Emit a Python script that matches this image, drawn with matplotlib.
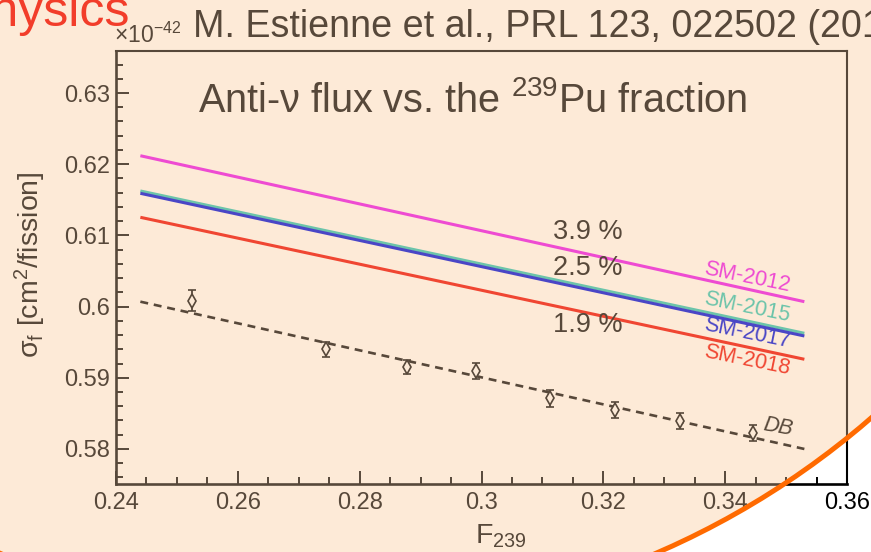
import matplotlib
matplotlib.use("Agg")
import matplotlib.pyplot as plt
from matplotlib.patches import Ellipse
from matplotlib.ticker import MultipleLocator

plt.rcParams['font.family'] = ['Liberation Sans', 'DejaVu Sans']
plt.rcParams['mathtext.fontset'] = 'custom'
plt.rcParams['mathtext.rm'] = 'Liberation Sans'
plt.rcParams['mathtext.it'] = 'Liberation Sans:italic'
plt.rcParams['mathtext.bf'] = 'Liberation Sans:bold'
plt.rcParams['mathtext.sf'] = 'Liberation Sans'

# ---- data -------------------------------------------------------------
f_range = [0.244, 0.353]                      # F239 span of the model lines
sm_names = ["SM-2012", "SM-2015", "SM-2017", "SM-2018"]
sm_values = {                                  # sigma_f at both ends of f_range
    "SM-2012": [0.62119, 0.60069],
    "SM-2015": [0.61624, 0.59625],
    "SM-2017": [0.61591, 0.59587],
    "SM-2018": [0.61254, 0.59260],
}
db_fit = [0.60069, 0.58000]                    # Daya Bay linear fit

db_f239 = [0.25243, 0.27442, 0.28772, 0.29909, 0.31124, 0.32191, 0.33258, 0.34461]
db_sigma = [0.60083, 0.59400, 0.59147, 0.59096, 0.58712, 0.58548, 0.58393, 0.58229]
db_err = [0.00152, 0.00105, 0.00100, 0.00112, 0.00117, 0.00117, 0.00117, 0.00112]

pct_labels = ["3.9 %", "2.5 %", "1.9 %"]
x_ticks = [0.24, 0.26, 0.28, 0.30, 0.32, 0.34, 0.36]
x_ticklabels = ["0.24", "0.26", "0.28", "0.3", "0.32", "0.34", "0.36"]
y_ticks = [0.58, 0.59, 0.60, 0.61, 0.62, 0.63]
y_ticklabels = ["0.58", "0.59", "0.6", "0.61", "0.62", "0.63"]

# ---- style ------------------------------------------------------------
W, H = 871, 552
PEACH = "#fdead7"
BROWN = "#57483a"
ORANGE = "#ff6a00"
sm_colors = {"SM-2012": "#ee4bd2", "SM-2015": "#6cc4aa",
             "SM-2017": "#4a46c6", "SM-2018": "#f04632"}

fig = plt.figure(figsize=(W / 100, H / 100), dpi=100, facecolor="white")
rect = [116 / W, 1 - 484 / H, (847 - 116) / W, (484 - 51) / H]
xlim = (0.24, 0.36)
ylim = (0.57508, 0.6359)

# highlight disc (pixel centre / radius converted to figure fractions)
cx, cy, r = 328, -207, 828
disc_kw = dict(xy=(cx / W, 1 - cy / H), width=2 * r / W, height=2 * r / H,
               transform=fig.transFigure)
disc = Ellipse(**disc_kw, facecolor=PEACH, edgecolor="none", zorder=0.5)
fig.add_artist(disc)
clip_disc = Ellipse(**disc_kw)
rim = Ellipse(**disc_kw, facecolor="none", edgecolor=ORANGE, lw=3.6, zorder=5)
fig.add_artist(rim)


def style_axes(ax, color):
    ax.set_xlim(*xlim)
    ax.set_ylim(*ylim)
    ax.set_facecolor("none")
    ax.xaxis.set_major_locator(plt.FixedLocator(x_ticks))
    ax.yaxis.set_major_locator(plt.FixedLocator(y_ticks))
    ax.xaxis.set_minor_locator(MultipleLocator(0.005))
    ax.yaxis.set_minor_locator(MultipleLocator(0.002))
    ax.tick_params(which="both", direction="in", colors=color, width=1.4,
                   top=False, right=False, labelsize=17)
    ax.tick_params(which="major", length=9.4)
    ax.tick_params(which="minor", length=5)
    ax.tick_params(axis="y", pad=4.5)
    ax.tick_params(axis="x", pad=5.5)
    for side in ["left", "bottom"]:
        ax.spines[side].set_linewidth(1.9)
    for side in ["top", "right"]:
        ax.spines[side].set_linewidth(1.5)
    for sp in ax.spines.values():
        sp.set_color(color)


# black frame seen outside the disc
ax_under = fig.add_axes(rect, zorder=0)
style_axes(ax_under, "black")
ax_under.set_xticklabels([])
ax_under.set_yticklabels([])

# main plot, tinted, restricted to the disc
ax = fig.add_axes(rect, zorder=1)
style_axes(ax, BROWN)
ax.set_xticklabels(x_ticklabels)
ax.set_yticklabels(y_ticklabels)
for t in ax.get_xticklabels() + ax.get_yticklabels():
    t.set_color(BROWN)
ax.get_xticklabels()[-1].set_color("black")

for sp in ax.spines.values():
    sp.set_clip_on(True)
    sp.set_clip_path(clip_disc)
for t in ax.xaxis.get_major_ticks() + ax.xaxis.get_minor_ticks():
    t.tick1line.set_clip_on(True)
    t.tick1line.set_clip_path(clip_disc)

for name in sm_names:
    ax.plot(f_range, sm_values[name], color=sm_colors[name], lw=2.2,
            solid_capstyle="butt", zorder=3 if name != "SM-2015" else 2)

ax.plot(f_range, db_fit, color=BROWN, lw=1.9, ls=(0, (3, 2.2)), zorder=3)
ax.errorbar(db_f239, db_sigma, yerr=db_err, fmt="d", ms=7.5, mfc=PEACH,
            mec=BROWN, mew=1.2, ecolor=BROWN, elinewidth=1.3, capsize=3,
            capthick=1.3, zorder=4)

# percent annotations and model labels
pct_pos = [(0.3175, 0.61048), (0.3175, 0.60542), (0.3175, 0.59742)]
for txt, (x, y) in zip(pct_labels, pct_pos):
    ax.text(x, y, txt, fontsize=19.5, color=BROWN, ha="center", va="center")

sm_label_pos = [0.60416, 0.59994, 0.59629, 0.59250]
for name, y in zip(sm_names, sm_label_pos):
    ax.text(0.3436, y, name, fontsize=15.5, color=sm_colors[name],
            ha="center", va="center", rotation=-11.5)
ax.text(0.3487, 0.58309, "DB", fontsize=15.5, style="italic", color=BROWN,
        ha="center", va="center", rotation=-10)

# headings and axis titles
fig.text(198 / W, 1 - 112 / H, "Anti-\u03bd flux vs. the $^{239}$Pu fraction",
         fontsize=28.5, color=BROWN, va="baseline", zorder=3)
fig.text(193 / W, 1 - 37 / H, "M. Estienne et al., PRL 123, 022502 (2019)",
         fontsize=27.1, color=BROWN, va="baseline", zorder=3)
fig.text(130 / W, 1 - 26 / H, "Physics", fontsize=36, color="#f23d2a",
         ha="right", va="baseline", zorder=3)
fig.text(114 / W, 1 - 43 / H, "\u00d710$^{\u221242}$", fontsize=16.5,
         color=BROWN, va="baseline", zorder=3)
fig.text(30 / W, 1 - 265 / H, "\u03c3$_{\\mathrm{f}}$ [cm$^{2}$/fission]",
         fontsize=20.5, color=BROWN, rotation=90, ha="center", va="center",
         zorder=3)
fig.text(501 / W, 1 - 543 / H, "F$_{239}$", fontsize=20.5, color=BROWN,
         ha="center", va="baseline", zorder=3)

fig.savefig("out.png", dpi=100, facecolor="white")
